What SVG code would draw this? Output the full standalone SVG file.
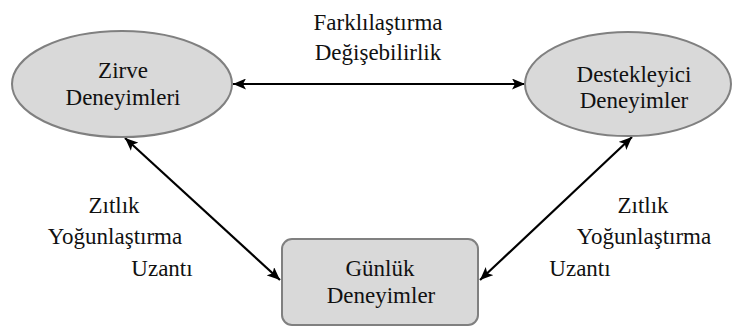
<svg xmlns="http://www.w3.org/2000/svg" width="735" height="327" viewBox="0 0 735 327">
<style>
.node{fill:#d9d9d9;stroke:#808080;stroke-width:2}
.c{stroke:#000;stroke-width:2.2;fill:none;marker-start:url(#ah);marker-end:url(#ah)}
</style>
<defs>
<marker id="ah" viewBox="0 0 13 11" refX="13" refY="5.5" markerWidth="13" markerHeight="11" markerUnits="userSpaceOnUse" orient="auto-start-reverse">
<path d="M0,0 L13,5.5 L0,11 L3,5.5 Z" fill="#000"/>
</marker>
</defs>
<rect width="735" height="327" fill="#fff"/>
<g id="connectors">
<line class="c" x1="233" y1="84" x2="525" y2="84"/>
<line class="c" x1="125" y1="138" x2="280" y2="280"/>
<line class="c" x1="632" y1="137" x2="480" y2="280"/>
</g>
<g font-family="Liberation Serif, DejaVu Serif, serif" font-size="23" fill="#111" text-anchor="middle">
<g id="zirve">
<ellipse class="node" cx="122" cy="84" rx="110" ry="53"/>
<text x="123" y="78">Zirve</text>
<text x="123" y="105">Deneyimleri</text>
</g>
<g id="destekleyici">
<ellipse class="node" cx="628" cy="84" rx="103" ry="52"/>
<text x="634" y="82">Destekleyici</text>
<text x="634" y="108">Deneyimler</text>
</g>
<g id="gunluk">
<rect class="node" x="282" y="239" width="196" height="86" rx="10"/>
<text x="380" y="276">Günlük</text>
<text x="381" y="303">Deneyimler</text>
</g>
<g id="labels">
<text x="378" y="30">Farklılaştırma</text>
<text x="378" y="60">Değişebilirlik</text>
<text x="114" y="213">Zıtlık</text>
<text x="115" y="244">Yoğunlaştırma</text>
<text x="162" y="276">Uzantı</text>
<text x="643" y="213">Zıtlık</text>
<text x="644" y="244">Yoğunlaştırma</text>
<text x="580" y="276">Uzantı</text>
</g>
</g>
</svg>
